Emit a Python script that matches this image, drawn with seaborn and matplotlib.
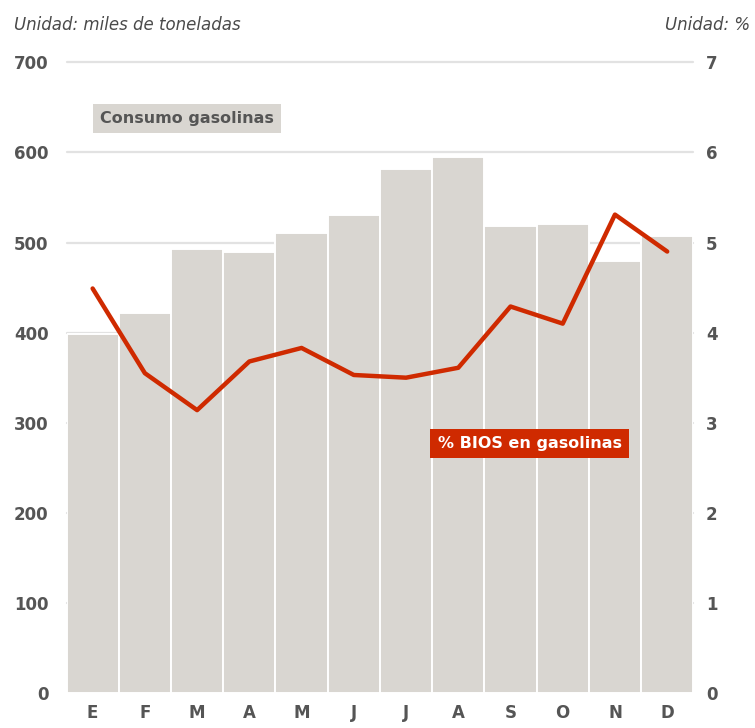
import matplotlib
matplotlib.use("Agg")
import matplotlib.pyplot as plt
import seaborn as sns
import pandas as pd

# Monthly data
months = ["E", "F", "M", "A", "M", "J", "J", "A", "S", "O", "N", "D"]
consumo = [398, 422, 493, 490, 511, 530, 582, 595, 518, 521, 480, 507]   # miles de toneladas
bios_pct = [4.49, 3.55, 3.14, 3.68, 3.83, 3.53, 3.50, 3.61, 4.29, 4.10, 5.31, 4.90]  # %
left_ticks = [0, 100, 200, 300, 400, 500, 600, 700]
right_ticks = [0, 1, 2, 3, 4, 5, 6, 7]

df = pd.DataFrame({"idx": range(len(months)), "mes": months,
                   "consumo": consumo, "bios": bios_pct})

sns.set_theme(style="white")
plt.rcParams["font.family"] = ["DejaVu Sans"]

TXT = "#555555"
BAR = "#d9d6d1"
RED = "#cf2a00"
GRID = "#e2e2e2"

fig = plt.figure(figsize=(7.55, 7.28), dpi=100)
ax = fig.add_axes([0.0881, 0.048, 0.8302, 0.8664])

sns.barplot(data=df, x="idx", y="consumo", color=BAR, saturation=1,
            width=1.0, edgecolor="white", linewidth=1.4, ax=ax, zorder=2)

ax.set_xlim(-0.5, len(months) - 0.5)
ax.set_ylim(0, 700)
ax.set_yticks(left_ticks)
ax.set_yticklabels([str(t) for t in left_ticks])
ax.set_xticks(range(len(months)))
ax.set_xticklabels(months)
ax.set_xlabel("")
ax.set_ylabel("")
for t in left_ticks[1:]:
    ax.axhline(t, color=GRID, lw=1.6, zorder=1, clip_on=False)
for s in ax.spines.values():
    s.set_visible(False)
ax.tick_params(axis="y", length=0, pad=13, labelsize=12, labelcolor=TXT)
ax.tick_params(axis="x", length=0, pad=8, labelsize=12, labelcolor=TXT)
for lab in ax.get_yticklabels() + ax.get_xticklabels():
    lab.set_fontweight("bold")

ax2 = ax.twinx()
sns.lineplot(data=df, x="idx", y="bios", color=RED, lw=3.2, ax=ax2, zorder=3)
ax2.set_ylim(0, 7)
ax2.set_yticks(right_ticks)
ax2.set_yticklabels([str(t) for t in right_ticks])
ax2.set_ylabel("")
ax2.set_xlabel("")
for s in ax2.spines.values():
    s.set_visible(False)
ax2.tick_params(axis="y", length=0, pad=9, labelsize=12, labelcolor=TXT)
for lab in ax2.get_yticklabels():
    lab.set_fontweight("bold")
ax2.grid(False)
ax.grid(False)

# Series labels
ax.text(0.1922, 0.9109, "Consumo gasolinas", transform=ax.transAxes,
        ha="center", va="center", fontsize=11.5, fontweight="bold", color=TXT,
        bbox=dict(boxstyle="square,pad=0.45", fc=BAR, ec="none"), zorder=5)
ax2.text(0.7387, 0.3956, "% BIOS en gasolinas", transform=ax2.transAxes,
         ha="center", va="center", fontsize=11.5, fontweight="bold", color="white",
         bbox=dict(boxstyle="square,pad=0.45", fc=RED, ec="none"), zorder=5)

# Units
fig.text(14 / 755, 1 - 25 / 728, "Unidad: miles de toneladas", ha="left", va="center",
         fontsize=12, style="italic", color="#4a4a4a")
fig.text(750 / 755, 1 - 25 / 728, "Unidad: %", ha="right", va="center",
         fontsize=12, style="italic", color="#4a4a4a")

fig.savefig("out.png", dpi=100, facecolor="white")
